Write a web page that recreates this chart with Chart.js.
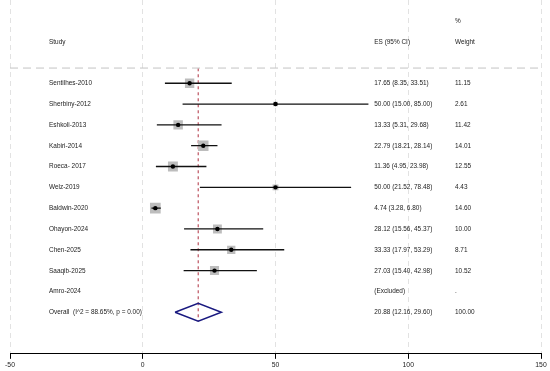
<!DOCTYPE html>
<html>
<head>
<meta charset="utf-8">
<script src="https://cdn.jsdelivr.net/npm/chart.js@4/dist/chart.umd.min.js"></script>
<style>
    html, body { margin: 0; padding: 0; background: #fff; }
    #wrap { width: 550px; height: 371px; position: relative; }
</style>
</head>
<body>
<div id="wrap"><canvas id="chartForest"></canvas></div>
<script>
// Forest plot, estudos e efeito combinado
const studies = ['Sentilhes-2010', 'Sherbiny-2012', 'Eshkoli-2013', 'Kabiri-2014', 'Roeca- 2017',
    'Welz-2019', 'Baldwin-2020', 'Ohayon-2024', 'Chen-2025', 'Saaqib-2025', 'Amro-2024'];
const es = [17.65, 50.00, 13.33, 22.79, 11.36, 50.00, 4.74, 28.12, 33.33, 27.03, null];
const ciLow = [8.35, 15.00, 5.31, 18.21, 4.95, 21.52, 3.28, 15.56, 17.97, 15.40, null];
const ciHigh = [33.51, 85.00, 29.68, 28.14, 23.98, 78.48, 6.80, 45.37, 53.29, 42.98, null];
const weights = [11.15, 2.61, 11.42, 14.01, 12.55, 4.43, 14.60, 10.00, 8.71, 10.52, null];

const overallLabel = 'Overall  (I^2 = 88.65%, p = 0.00)';
const overallEs = 20.88;
const overallLow = 12.16;
const overallHigh = 29.60;
const overallWeight = 100.00;

const xTicks = [-50, 0, 50, 100, 150];

const overallRow = studies.length;
const fonte = '7px "Liberation Sans", Arial, sans-serif';

// uma linha por estudo para o IC
const ciSets = studies.map(function (s, i) {
    if (es[i] === null) return null;
    return {
        type: 'line',
        data: [{x: ciLow[i], y: i}, {x: ciHigh[i], y: i}],
        borderColor: '#111',
        borderWidth: 1.3,
        pointRadius: 0,
        order: 2
    };
}).filter(d => d);

const squares = {
    type: 'scatter',
    data: studies.map((s, i) => ({x: es[i], y: i})).filter(p => p.x !== null),
    pointStyle: 'rect',
    pointRadius: weights.filter(w => w !== null).map(w => 1.98 * Math.sqrt(w)),
    backgroundColor: '#bdbdbd',
    borderWidth: 0,
    order: 3
};

const dots = {
    type: 'scatter',
    data: studies.map((s, i) => ({x: es[i], y: i})).filter(p => p.x !== null),
    pointStyle: 'circle',
    pointRadius: 2.2,
    backgroundColor: '#000',
    borderWidth: 0,
    order: 1
};

const diamond = {
    type: 'line',
    data: [
        {x: overallLow, y: overallRow},
        {x: overallEs, y: overallRow - 0.43},
        {x: overallHigh, y: overallRow},
        {x: overallEs, y: overallRow + 0.43},
        {x: overallLow, y: overallRow}
    ],
    borderColor: '#1a1a80',
    borderWidth: 1.5,
    pointRadius: 0,
    fill: false,
    order: 1
};

const redLine = {
    type: 'line',
    data: [{x: overallEs, y: -0.72}, {x: overallEs, y: overallRow + 0.43}],
    borderColor: '#b03040',
    borderWidth: 1,
    borderDash: [3, 3],
    pointRadius: 0,
    order: 4
};

// texto um pouco mais estreito, como no original
function escreve(ctx, txt, x, y) {
    ctx.save();
    ctx.translate(x, y);
    ctx.scale(0.92, 1);
    ctx.fillText(txt, 0, 0);
    ctx.restore();
}

const textos = {
    id: 'textos',
    afterDatasetsDraw(chart) {
        const ctx = chart.ctx;
        const xs = chart.scales.x;
        const ys = chart.scales.y;
        const colStudy = xs.getPixelForValue(-35.3);
        const colEs = xs.getPixelForValue(87.2);
        const colW = xs.getPixelForValue(117.6);

        ctx.save();
        // linha separadora tracejada
        ctx.strokeStyle = '#c4c4c4';
        ctx.lineWidth = 1;
        ctx.setLineDash([8, 5]);
        ctx.beginPath();
        ctx.moveTo(chart.chartArea.left, ys.getPixelForValue(-0.73));
        ctx.lineTo(chart.chartArea.right, ys.getPixelForValue(-0.73));
        ctx.stroke();
        ctx.setLineDash([]);

        ctx.font = fonte;
        ctx.fillStyle = '#222';
        ctx.textAlign = 'left';
        ctx.textBaseline = 'middle';

        escreve(ctx, 'Study', colStudy, ys.getPixelForValue(-2));
        escreve(ctx, 'ES (95% CI)', colEs, ys.getPixelForValue(-2));
        escreve(ctx, '%', colW, ys.getPixelForValue(-3));
        escreve(ctx, 'Weight', colW, ys.getPixelForValue(-2));

        studies.forEach(function (s, i) {
            const y = ys.getPixelForValue(i);
            escreve(ctx, s, colStudy, y);
            if (es[i] === null) {
                escreve(ctx, '(Excluded)', colEs, y);
                escreve(ctx, '.', colW, y);
            } else {
                escreve(ctx, es[i].toFixed(2) + ' (' + ciLow[i].toFixed(2) + ', ' + ciHigh[i].toFixed(2) + ')', colEs, y);
                escreve(ctx, weights[i].toFixed(2), colW, y);
            }
        });

        const yo = ys.getPixelForValue(overallRow);
        escreve(ctx, overallLabel, colStudy, yo);
        escreve(ctx, overallEs.toFixed(2) + ' (' + overallLow.toFixed(2) + ', ' + overallHigh.toFixed(2) + ')', colEs, yo);
        escreve(ctx, overallWeight.toFixed(2), colW, yo);
        ctx.restore();
    }
};

new Chart(document.getElementById('chartForest'), {
    type: 'scatter',
    data: {
        datasets: [...ciSets, squares, dots, diamond, redLine]
    },
    options: {
        responsive: true,
        maintainAspectRatio: false,
        animation: false,
        layout: {
            autoPadding: false,
            padding: {left: 10, right: 9, top: 0, bottom: 0}
        },
        scales: {
            x: {
                type: 'linear',
                min: -50,
                max: 150,
                afterBuildTicks: function (axis) {
                    axis.ticks = xTicks.map(v => ({value: v}));
                },
                grid: {
                    color: '#e2e2e2',
                    tickColor: '#000',
                    tickLength: 5,
                    lineWidth: 1
                },
                border: {
                    display: true,
                    color: '#000',
                    width: 1,
                    dash: [5, 4]
                },
                ticks: {
                    color: '#222',
                    padding: 2,
                    maxRotation: 0,
                    font: {family: '"Liberation Sans", Arial, sans-serif', size: 6.8}
                }
            },
            y: {
                type: 'linear',
                min: -4,
                max: 13,
                reverse: true,
                display: false
            }
        },
        plugins: {
            legend: {display: false},
            tooltip: {enabled: false}
        }
    },
    plugins: [textos]
});
</script>
</body>
</html>
